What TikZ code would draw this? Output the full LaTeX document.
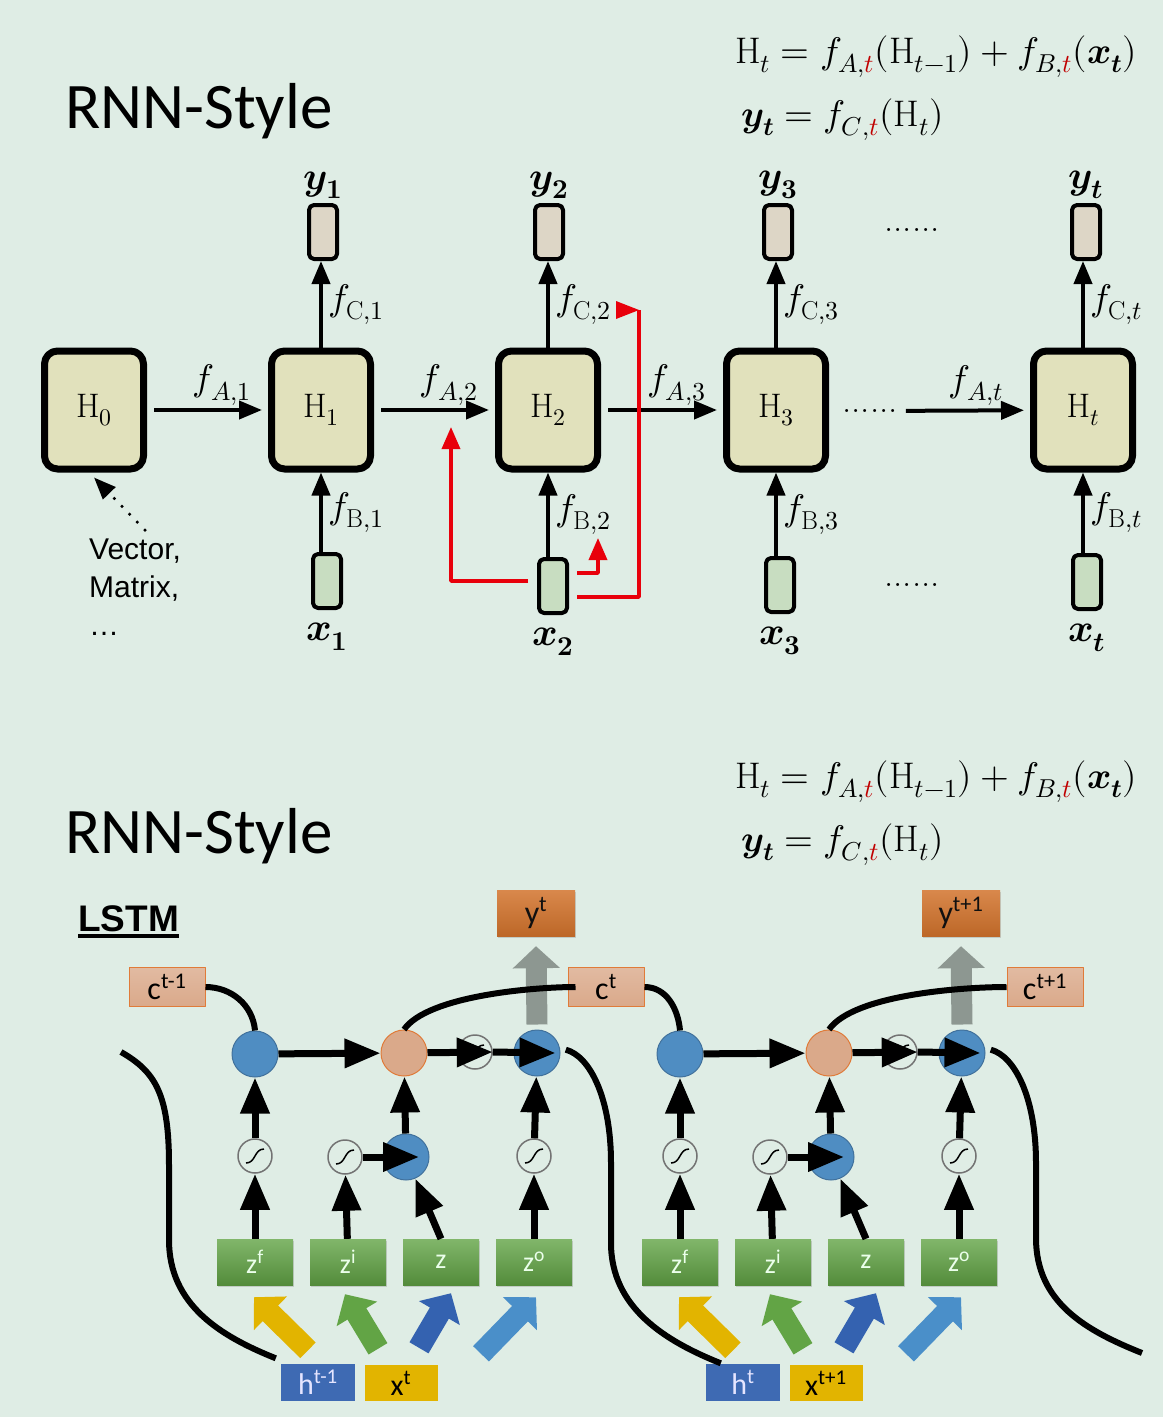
\documentclass[tikz,border=0pt]{standalone}
\usepackage{fontspec}
\usepackage{unicode-math}
\setmathfont{Latin Modern Math}
\newfontfamily\chutieude{Carlito}
\newfontfamily\chuarial{Liberation Sans}
\usepackage{xcolor}
\definecolor{nennhat}{HTML}{DFEDE5}
\definecolor{nenH}{HTML}{E1E1BC}
\definecolor{nenY}{HTML}{DDD6C6}
\definecolor{nenX}{HTML}{C8DDC1}
\definecolor{dndo}{HTML}{E8000B}
\definecolor{chudo}{HTML}{C00000}
\definecolor{camnhat}{HTML}{DAA98A}
\definecolor{vienCam}{HTML}{E07B39}
\definecolor{camdam}{HTML}{D2732C}
\definecolor{xanhla}{HTML}{62A445}
\definecolor{xanhduong}{HTML}{4F8DC2}
\definecolor{vienxanh}{HTML}{41719C}
\definecolor{xamxanh}{HTML}{8D9791}
\definecolor{vang}{HTML}{E2B400}
\definecolor{xanhdam}{HTML}{3462B0}
\definecolor{xanhsang}{HTML}{4A8FC9}
\definecolor{hopxanh}{HTML}{3E6AB3}
\definecolor{chuden}{HTML}{101010}
\def\maunen{nennhat}
\def\maudo{dndo}
\usepackage{tikz}
\usetikzlibrary{arrows.meta,calc,positioning,shadows}
\newcommand{\tsup}[1]{\textsuperscript{#1}}
\begin{document}
\begin{tikzpicture}[x=1pt,y=-1pt,line join=round,
	hopH/.style={draw,line width=7pt,rounded corners=13pt,fill=nenH,minimum width=99pt,minimum height=118pt,inner sep=0pt,font=\fontsize{34}{40}\selectfont},
	hopnho/.style={draw,line width=4pt,rounded corners=5pt,minimum width=28pt,minimum height=54pt,inner sep=0pt},
	nhan/.style={inner sep=1pt,font=\fontsize{37}{44}\selectfont},
	nhanxy/.style={inner sep=1pt,font=\fontsize{39}{46}\selectfont},
	muiten/.style={line width=4pt,-{Triangle[width=18pt,length=23pt]}},
	duongdo/.style={draw=\maudo,line width=3.5pt},
	tron/.style={circle,minimum size=46pt,inner sep=0pt,fill=xanhduong,draw=vienxanh,line width=1pt},
	sigma/.style={circle,minimum size=34pt,inner sep=0pt,draw=black!55,line width=1.5pt},
	muiden/.style={line width=7pt,-{Triangle[width=28pt,length=36pt]}},
	khoi/.style={line width=22pt,-{Triangle[width=46pt,length=23pt]}},
	duongcong/.style={line width=6pt},
	chucalibri/.style={inner sep=0pt,font=\chutieude\fontsize{#1}{#1}\selectfont},
	hopz/.style={chucalibri=28,minimum width=76pt,minimum height=46pt,top color=xanhla!80!white,bottom color=xanhla!85!black,text=white!92!green,drop shadow={opacity=0.3,shadow xshift=1pt,shadow yshift=-2pt}},
	hopc/.style={chucalibri=32,minimum width=76pt,minimum height=39pt,draw=vienCam,line width=1pt,top color=camnhat!80!white,bottom color=camnhat,text=black},
	hopra/.style={minimum width=78pt,minimum height=46pt,top color=camdam!85!white,bottom color=camdam!90!black,drop shadow={opacity=0.3,shadow xshift=1pt,shadow yshift=-2pt}},
	hoph/.style={chucalibri=30,minimum width=74pt,minimum height=37pt,fill=hopxanh,text=white!90!blue},
	hopvang/.style={chucalibri=30,minimum width=73pt,minimum height=36pt,fill=vang,text=black}
	]
	\useasboundingbox (0,0) rectangle (1163,1417);
	\fill[\maunen] (0,0) rectangle (1163,1417);
	%%%Tiêu đề và công thức
	\foreach \j/\dy in {1/0,2/725}{%
		\node[anchor=west,chucalibri=65] (tieude\j) at (65,111+\dy) {RNN-Style};
		\node[anchor=west,inner sep=0pt,font=\fontsize{37}{43}\selectfont] (ctA\j) at (735,57+\dy) {$\mathrm{H}_t = f_{A,\textcolor{chudo}{t}}(\mathrm{H}_{t-1}) + f_{B,\textcolor{chudo}{t}}(\symbfit{x}_{\symbfit{t}})$};
		\node[anchor=west,inner sep=0pt,font=\fontsize{37}{43}\selectfont] (ctB\j) at (741,120+\dy) {$\symbfit{y}_{\symbfit{t}} = f_{C,\textcolor{chudo}{t}}(\mathrm{H}_t)$};
	}
	%%%Vẽ các khối H
	\foreach \i/\x in {0/94,1/321,2/548,3/776,t/1083}
		\node[hopH] (H\i) at (\x,410) {$\mathrm{H}_{\i}$};
	%%%Vẽ đầu ra y
	\foreach \i/\x/\s in {1/323/\symbf{1},2/549/\symbf{2},3/778/\symbf{3},t/1086/\symbfit{t}}{%
		\node[hopnho,fill=nenY] (y\i) at (\x,232) {};
		\node[nhanxy,above=3pt of y\i] (ny\i) {$\symbfit{y}_{\s}$};
		\draw[muiten] (H\i.north) -- (H\i.north |- y\i.south) node[nhan,midway,right=4pt] {$f_{\mathrm{C},\i}$};
	}
	%%%Vẽ đầu vào x
	\foreach \i/\x/\y/\s in {1/327/581/\symbf{1},2/553/586/\symbf{2},3/780/585/\symbf{3},t/1087/582/\symbfit{t}}{%
		\node[hopnho,fill=nenX] (x\i) at (\x,\y) {};
		\node[nhanxy,below=12pt of x\i] (nx\i) {$\symbfit{x}_{\s}$};
		\draw[muiten] (H\i.south |- x\i.north) -- (H\i.south) node[nhan,midway,right=4pt] {$f_{\mathrm{B},\i}$};
	}
	%%%Vẽ mũi tên ngang
	\node[nhan] (cham1) at (870,411) {......};
	\node[nhan] (cham2) at (912,230) {......};
	\node[nhan] (cham3) at (912,585) {......};
	\foreach \a/\b/\n/\k in {H0/H1/1/0.62,H1/H2/2/0.62,H2/H3/3/0.62,cham1/Ht/t/0.59}
		\draw[muiten,shorten <=7pt,shorten >=6pt] (\a) -- (\b) node[nhan,pos=\k,above=2pt] {$f_{A,\n}$};
	%%%Chú thích H0
	\node[anchor=north west,align=left,inner sep=0pt,font=\chuarial\fontsize{30}{38}\selectfont] (vecto) at (89,539) {Vector,\\Matrix,\\…};
	\coordinate (goccham) at (145,530);
	\draw[line width=3.5pt,dash pattern=on 0pt off 11pt,line cap=round,-{Triangle[width=17pt,length=22pt]}] (goccham) -- ([yshift=-5pt]H0.south);
	%%%Vẽ đường đỏ
	\coordinate (do1) at (451,427);
	\coordinate (do2) at (598,538);
	\coordinate (do3) at (639,310);
	\draw[duongdo,-{Triangle[width=18pt,length=22pt]}] ($(x2.west)+(-9,-5)$) -| (do1);
	\draw[duongdo,-{Triangle[width=18pt,length=22pt]}] ($(x2.east)+(8,-13)$) -| (do2);
	\draw[duongdo] ($(x2.east)+(8,11)$) -| (do3);
	\fill[\maudo] (do3) -- ++(-23,-9) -- ++(0,18) -- cycle;
	%%%Phần dưới: LSTM
	\node[anchor=west,inner sep=0pt,font=\chuarial\bfseries\fontsize{37}{44}\selectfont] (lstm) at (78,919) {LSTM};
	\draw[line width=3.5pt] ([yshift=-4pt]lstm.base west) -- ([yshift=-4pt]lstm.base east);
	\foreach \i/\x/\s in {0/167/t-1,1/606/t,2/1045/t+1}
		\node[hopc] (c\i) at (\x,987) {c\tsup{\s}};
	\foreach \k/\d/\h/\s in {1/0/t-1/t,2/425/t/t+1}{%
		\node[hopra] (yo\k) at (536+\d,913) {};
		\node[chucalibri=32,text=chuden] (nyo\k) at (yo\k) {y\tsup{\s}};
		\node[hoph] (h\k) at (318+\d,1382) {h\tsup{\h}};
		\node[hopvang] (xx\k) at (401+\d,1383) {x\tsup{\s}};
	}
	%%%Vẽ các ô LSTM
	\foreach \k/\d/\cp/\cn/\e in {1/0/0/1/8,2/425/1/2/0}{%
		\node[tron] (qf\k) at (255+\d,1054) {};
		\node[tron,fill=camnhat,draw=vienCam] (cong\k) at (404+\d,1053) {};
		\node[sigma] (sgc\k) at (475+\d,1052) {};
		\node[tron] (qo\k) at (537+\d,1053) {};
		\node[sigma] (sgf\k) at (255+\d,1156) {};
		\node[sigma] (sgi\k) at (345+\d,1157) {};
		\node[tron] (qi\k) at (406+\d,1157) {};
		\node[sigma] (sgo\k) at (534+\d,1156) {};
		\foreach \n/\x/\s in {zf/255/\tsup{f},zi/348/\tsup{i},zz/441/{},zo/534/\tsup{o}}
			\node[hopz] (\n\k) at (\x+\d,1262) {z\s};
		\foreach \s in {sgf,sgi,sgo,sgc}
			\draw[line width=1.5pt] ($(\s\k)+(-9,7)$) .. controls +(10,0) and +(-10,0) .. ($(\s\k)+(9,-7)$);
		%%mũi tên xám ra y
		\draw[line width=21pt,draw=xamxanh,-{Triangle[width=46pt,length=22pt]}] ([yshift=5pt]qo\k.north) -- ([yshift=-10pt]yo\k.south);
		%%đường c
		\draw[duongcong] (c\cp.east) to[out=0,in=95] (qf\k.north);
		\draw[duongcong] (cong\k.north) to[out=55,in=180,looseness=0.6] ([xshift=\e pt]c\cn.west);
		%%mũi tên đen
		\draw[muiden] (sgf\k) -- (qf\k);
		\draw[muiden] (qi\k) -- (cong\k);
		\draw[muiden] (sgo\k) -- (qo\k);
		\draw[muiden] (sgi\k) -- ([xshift=13pt]qi\k.center);
		\draw[muiden] (qf\k) -- (cong\k);
		\draw[muiden] (cong\k) -- (sgc\k.east);
		\draw[muiden] (sgc\k.east) -- ([xshift=-5pt]qo\k.east);
		\draw[muiden] (zf\k) -- (sgf\k);
		\draw[muiden] (zi\k) -- (sgi\k);
		\draw[muiden] (zz\k.north) -- (qi\k);
		\draw[muiden] (zo\k) -- (sgo\k);
		%%mũi tên màu
		\foreach \mau/\goc/\u/\v/\dich/\p/\q in {vang/h/-10/-13/zf/-1/12,xanhla/xx/-23/-16/zi/-3/9,xanhdam/xx/18/-17/zz/10/8,xanhsang/xx/80/-11/zo/2/12}
			\draw[khoi,draw=\mau] ($(\goc\k.north)+(\u,\v)$) -- ($(\dich\k.south)+(\p,\q)$);
	}
	%%%Vẽ đường h nối các ô
	\coordinate (hdau) at (121,1052);
	\coordinate (hcuoi) at (1142,1353);
	\draw[duongcong] (hdau) .. controls +(35,20) and +(0,-70) .. (169,1165) -- (169,1240) .. controls +(0,65) and +(-55,-22) .. ([xshift=-5pt,yshift=5pt]h1.north west);
	\draw[duongcong,shorten <=6pt] (qo1.12) .. controls +(30,8) and +(0,-65) .. ($(qo1)+(74,110)$) -- ($(qo1)+(74,190)$) .. controls +(0,65) and +(-55,-22) .. ([xshift=15pt]h2.north west);
	\draw[duongcong,shorten <=6pt] (qo2.12) .. controls +(30,8) and +(0,-65) .. ($(qo2)+(74,110)$) -- ($(qo2)+(74,185)$) .. controls +(0,65) and +(-55,-22) .. (hcuoi);
\end{tikzpicture}
\end{document}
